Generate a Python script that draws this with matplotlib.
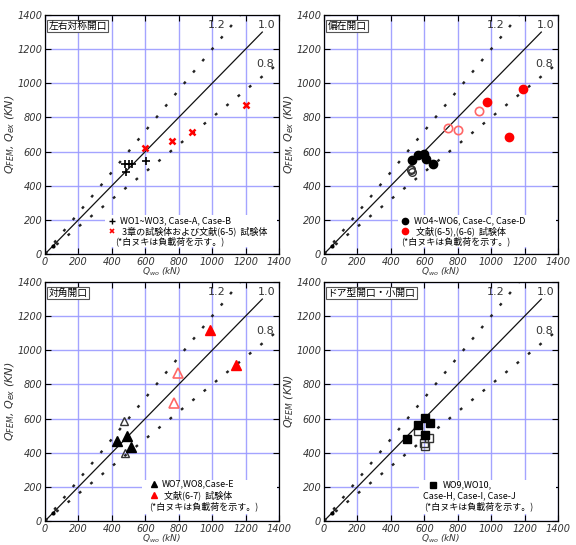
import matplotlib
matplotlib.use('Agg')
import matplotlib.pyplot as plt
import numpy as np

plt.rcParams['font.family'] = ['Noto Sans CJK JP', 'DejaVu Sans']
plt.rcParams['axes.unicode_minus'] = False

# 左右対称開口
p1_black_x = [480, 500, 520, 485, 605]
p1_black_y = [525, 528, 530, 478, 545]
p1_red_x = [600, 760, 880, 1205]
p1_red_y = [622, 660, 712, 875]

# 偏在開口
p2_fill_x = [525, 565, 600, 610, 655]
p2_fill_y = [550, 580, 585, 555, 525]
p2_open_x = [520, 525, 518]
p2_open_y = [492, 480, 500]
p2_redfill_x = [975, 1190, 1105]
p2_redfill_y = [890, 965, 685]
p2_redopen_x = [740, 800, 925]
p2_redopen_y = [740, 725, 835]

# 対角開口
p3_fill_x = [430, 490, 515]
p3_fill_y = [470, 495, 432]
p3_open_x = [470, 478]
p3_open_y = [588, 400]
p3_redfill_x = [985, 1145]
p3_redfill_y = [1118, 915]
p3_redopen_x = [795, 770]
p3_redopen_y = [868, 692]

# ドア型開口・小開口
p4_fill_x = [495, 565, 605, 635, 605]
p4_fill_y = [482, 563, 605, 575, 505]
p4_open_x = [560, 600, 630, 605]
p4_open_y = [525, 455, 485, 440]

ticks = [0, 200, 400, 600, 800, 1000, 1200, 1400]

fig = plt.figure(figsize=(5.76, 5.45), dpi=100)
W, H = 576, 545
GRAY = '#333333'


def make_ax(left, top):
    ax = fig.add_axes([left / W, (H - top - 239) / H, 234 / W, 239 / H])
    ax.set_xlim(0, 1400)
    ax.set_ylim(0, 1400)
    ax.set_xticks(ticks)
    ax.set_yticks(ticks)
    ax.grid(True, color='#9a9aff', lw=1.0, alpha=0.9)
    ax.set_axisbelow(True)
    ax.tick_params(direction='in', length=4, top=True, right=True,
                   labelsize=7, colors='black', labelcolor=GRAY, pad=2)
    for lab in ax.get_xticklabels() + ax.get_yticklabels():
        lab.set_fontstyle('italic')
        lab.set_family('DejaVu Sans')
    for s in ax.spines.values():
        s.set_linewidth(0.9)
    # 比率の線
    ax.plot([0, 1300], [0, 1300], color='#111111', lw=0.9, zorder=2)
    ax.plot([0, 1400 / 1.2], [0, 1400], color='#222222', lw=1.7,
            dashes=(1.2, 5), zorder=2)
    ax.plot([0, 1400], [0, 1120], color='#222222', lw=1.7,
            dashes=(1.2, 5), zorder=2)
    ax.plot([45], [45], 'o', color='black', ms=2, zorder=2)
    ax.text(1030, 1340, '1.2', fontsize=8, ha='center', va='center',
            family='DejaVu Sans', color=GRAY)
    ax.text(1325, 1340, '1.0', fontsize=8, ha='center', va='center',
            family='DejaVu Sans', color=GRAY)
    ax.text(1315, 1113, '0.8', fontsize=8, ha='center', va='center',
            family='DejaVu Sans', color=GRAY)
    ax.set_xlabel('$Q_{wo}$ (kN)', fontsize=6.5, style='italic', labelpad=-1,
                  family='DejaVu Sans', color=GRAY)
    return ax


def title_box(ax, txt):
    ax.text(0.015, 0.975, txt, transform=ax.transAxes, fontsize=7,
            ha='left', va='top',
            bbox=dict(boxstyle='square,pad=0.15', fc='white', ec='#555555', lw=0.8),
            zorder=5)


def legend_box(ax, x0, y0, x1, y1):
    ax.add_patch(plt.Rectangle((x0, y0), x1 - x0, y1 - y0, fc='white',
                               ec='none', zorder=1.5))


ylab = '$Q_{FEM}$, $Q_{ex}$ (KN)'

# panel 1
ax1 = make_ax(45, 15)
title_box(ax1, '左右対称開口')
ax1.set_ylabel(ylab, fontsize=8, style='italic', labelpad=0, family='DejaVu Sans', color=GRAY)
legend_box(ax1, 360, 40, 1390, 230)
ax1.plot(p1_black_x, p1_black_y, '+', color='black', ms=6, mew=1.2, zorder=4)
ax1.plot(p1_red_x, p1_red_y, 'x', color='red', ms=5, mew=1.8, zorder=4)
ax1.plot([400], [195], '+', color='black', ms=4, mew=1.0, zorder=4)
ax1.text(450, 195, 'WO1~WO3, Case-A, Case-B', fontsize=6.5, va='center')
ax1.plot([400], [135], 'x', color='red', ms=3.5, mew=1.2, zorder=4)
ax1.text(450, 135, ' 3章の試験体および文献(6-5)  試験体', fontsize=6.5, va='center')
ax1.text(420, 75, '(*白ヌキは負載荷を示す。)', fontsize=6.5, va='center')

# panel 2
ax2 = make_ax(324, 15)
title_box(ax2, '偏在開口')
ax2.set_ylabel(ylab, fontsize=8, style='italic', labelpad=0, family='DejaVu Sans', color=GRAY)
legend_box(ax2, 440, 40, 1390, 230)
ax2.plot(p2_open_x, p2_open_y, 'o', mfc='none', mec=GRAY, ms=5.5, mew=1.0, zorder=4)
ax2.plot(p2_fill_x, p2_fill_y, 'o', color='black', ms=6, zorder=4)
ax2.plot(p2_redopen_x, p2_redopen_y, 'o', mfc='none', mec='#ff6666', ms=6, mew=1.2, zorder=4)
ax2.plot(p2_redfill_x, p2_redfill_y, 'o', color='red', ms=6, zorder=4)
ax2.plot([485], [195], 'o', color='black', ms=4.5, zorder=4)
ax2.text(540, 195, 'WO4~WO6, Case-C, Case-D', fontsize=6.5, va='center')
ax2.plot([485], [135], 'o', color='red', ms=4.5, zorder=4)
ax2.text(540, 135, ' 文献(6-5),(6-6)  試験体', fontsize=6.5, va='center')
ax2.text(460, 75, '(*白ヌキは負載荷を示す。)', fontsize=6.5, va='center')

# panel 3
ax3 = make_ax(45, 282)
title_box(ax3, '対角開口')
ax3.set_ylabel(ylab, fontsize=8, style='italic', labelpad=0, family='DejaVu Sans', color=GRAY)
legend_box(ax3, 580, 40, 1390, 240)
ax3.plot(p3_open_x, p3_open_y, '^', mfc='none', mec=GRAY, ms=6, mew=1.0, zorder=4)
ax3.plot(p3_fill_x, p3_fill_y, '^', color='black', ms=6.5, zorder=4)
ax3.plot(p3_redopen_x, p3_redopen_y, '^', mfc='none', mec='#ff6666', ms=6.5, mew=1.2, zorder=4)
ax3.plot(p3_redfill_x, p3_redfill_y, '^', color='red', ms=6.5, zorder=4)
ax3.plot([650], [215], '^', color='black', ms=5, zorder=4)
ax3.text(700, 215, 'WO7,WO8,Case-E', fontsize=6.5, va='center')
ax3.plot([650], [150], '^', color='red', ms=5, zorder=4)
ax3.text(700, 150, ' 文献(6-7)  試験体', fontsize=6.5, va='center')
ax3.text(620, 88, '(*白ヌキは負載荷を示す。)', fontsize=6.5, va='center')

# panel 4
ax4 = make_ax(324, 282)
title_box(ax4, 'ドア型開口・小開口')
ax4.set_ylabel('$Q_{FEM}$ (KN)', fontsize=8, style='italic', labelpad=0, family='DejaVu Sans', color=GRAY)
legend_box(ax4, 570, 40, 1390, 240)
ax4.plot(p4_open_x, p4_open_y, 's', mfc='none', mec=GRAY, ms=5.5, mew=1.0, zorder=4)
ax4.plot(p4_fill_x, p4_fill_y, 's', color='black', ms=6, zorder=4)
ax4.plot([650], [210], 's', color='black', ms=5, zorder=4)
ax4.text(710, 210, 'WO9,WO10,', fontsize=6.5, va='center')
ax4.text(590, 145, 'Case-H, Case-I, Case-J', fontsize=6.5, va='center')
ax4.text(600, 85, '(*白ヌキは負載荷を示す。)', fontsize=6.5, va='center')

fig.savefig('out.png', dpi=100)
